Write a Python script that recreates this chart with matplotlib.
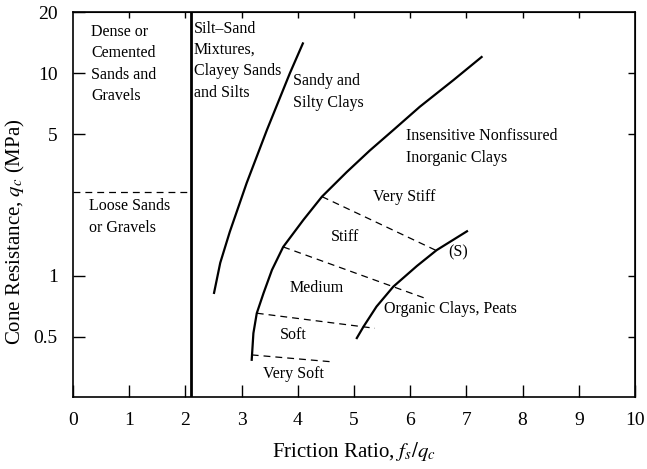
import matplotlib
matplotlib.use('Agg')
import matplotlib.pyplot as plt
import matplotlib.ticker as plticker

plt.rcParams['font.family'] = ['Liberation Serif', 'DejaVu Serif']
plt.rcParams['mathtext.fontset'] = 'stix'

# boundary curves (friction ratio, cone resistance MPa)
silt_x = [2.51, 2.62, 2.79, 3.09, 3.45, 3.86, 4.09]
silt_y = [0.825, 1.16, 1.65, 2.87, 5.24, 10.0, 14.0]

clay_x = [3.18, 3.21, 3.27, 3.39, 3.54, 3.74, 4.10, 4.43, 4.87, 5.28, 5.70, 6.17, 6.77, 7.27]
clay_y = [0.386, 0.522, 0.655, 0.822, 1.07, 1.39, 1.89, 2.46, 3.25, 4.15, 5.24, 6.82, 9.24, 12.0]

organic_x = [5.05, 5.17, 5.40, 5.70, 6.12, 6.47, 7.01]
organic_y = [0.494, 0.563, 0.706, 0.886, 1.12, 1.34, 1.66]

# consistency dividers (dashed)
dividers = [
    ([4.43, 6.50], [2.46, 1.32]),   # very stiff / stiff
    ([3.74, 6.26], [1.39, 0.777]),  # stiff / medium
    ([3.27, 5.37], [0.655, 0.552]), # medium / soft
    ([3.18, 4.57], [0.408, 0.378]), # soft / very soft
]

sand_x = 2.1
loose_y = 2.6

xticks = [0, 1, 2, 3, 4, 5, 6, 7, 8, 9, 10]
yticks = [0.5, 1, 5, 10, 20]
ytick_labels = ['0.5', '1', '5', '10', '20']

fig = plt.figure(figsize=(6.47, 4.69), dpi=100)
ax = fig.add_axes([0.1128, 0.1535, 0.8687, 0.8209])

ax.set_yscale('log')
ax.set_xlim(0, 10)
ax.set_ylim(0.253, 20)

ax.plot(silt_x, silt_y, color='black', lw=1.6)
ax.plot(clay_x, clay_y, color='black', lw=1.6)
ax.plot(organic_x, organic_y, color='black', lw=1.6)
for dx, dy in dividers:
    ax.plot(dx, dy, color='black', lw=0.9, dashes=(5.5, 4))

ax.axvline(sand_x, color='black', lw=2.0)
ax.plot([0, sand_x], [loose_y, loose_y], color='black', lw=0.9, dashes=(5.5, 4))

# ticks
ax.set_xticks(xticks)
ax.set_yticks(yticks)
ax.set_yticklabels(ytick_labels)
ax.yaxis.set_minor_locator(plticker.NullLocator())
ax.tick_params(direction='in', length=8.5, width=1.0, labelsize=14, pad=11)
for sp in ax.spines.values():
    sp.set_linewidth(1.2)

top = ax.secondary_xaxis('top')
top.set_xticks(xticks[1:-1])
top.tick_params(direction='in', length=4, width=1.0, labeltop=False)
right = ax.secondary_yaxis('right')
right.set_yticks([0.5, 1, 5, 10])
right.yaxis.set_minor_locator(plticker.NullLocator())
right.tick_params(direction='in', length=5, width=1.0, labelright=False)

ax.set_xlabel('Friction Ratio, $f_s/q_c$', fontsize=15)
ax.set_ylabel('Cone Resistance, $q_c$ (MPa)', fontsize=15)
ax.xaxis.set_label_coords(0.5, -0.112)
ax.yaxis.set_label_coords(-0.082, 0.43)

# region labels
fs = 11.5
def lab(x, y, s, **kw):
    ax.text(x, y, s, fontsize=fs, ha='left', va='center', linespacing=1.45, **kw)

lab(0.32, 11.1, 'Dense or\nCemented\nSands and\nGravels')
lab(2.15, 11.5, 'Silt\u2013Sand\nMixtures,\nClayey Sands\nand Silts')
lab(3.91, 8.06, 'Sandy and\nSilty Clays')
lab(5.93, 4.32, 'Insensitive Nonfissured\nInorganic Clays')
lab(0.28, 1.95, 'Loose Sands\nor Gravels')
lab(5.34, 2.45, 'Very Stiff')
lab(4.59, 1.56, 'Stiff')
lab(3.86, 0.873, 'Medium')
lab(3.68, 0.512, 'Soft')
lab(3.38, 0.329, 'Very Soft')
lab(6.67, 1.30, '(S)')
lab(5.53, 0.688, 'Organic Clays, Peats')

fig.savefig('out.png', dpi=100)
